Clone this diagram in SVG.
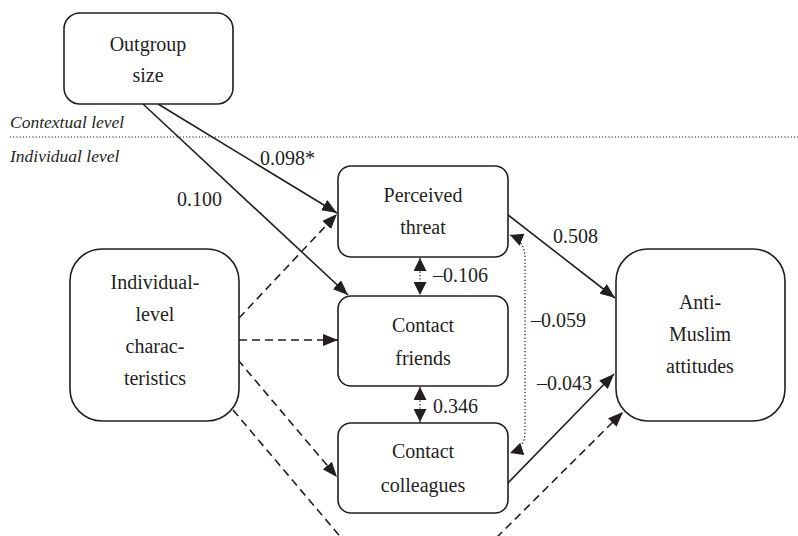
<svg xmlns="http://www.w3.org/2000/svg" width="798" height="536" viewBox="0 0 798 536">
<style>
.box{fill:#fff;stroke:#231f20;stroke-width:1.6}
.t{font-family:'Liberation Serif','DejaVu Serif',serif;font-size:20px;fill:#231f20;text-anchor:middle}
.lab{font-family:'Liberation Serif','DejaVu Serif',serif;font-size:20px;fill:#231f20}
.lvl{font-family:'Liberation Serif','DejaVu Serif',serif;font-size:17.5px;font-style:italic;fill:#231f20}
.c{fill:none;stroke:#231f20;stroke-width:1.6}
.d{stroke-dasharray:8 5}
.o{stroke-dasharray:1.2 2.2;stroke-width:1.3}
</style>
<defs>
<marker id="ah" markerUnits="userSpaceOnUse" viewBox="0 0 15 12" refX="15" refY="6" markerWidth="15" markerHeight="12" orient="auto-start-reverse">
<path d="M0,0 L15,6 L0,12 z" fill="#231f20"/>
</marker>
<marker id="ahs" markerUnits="userSpaceOnUse" viewBox="0 0 13 13" refX="13" refY="6.5" markerWidth="13" markerHeight="13" orient="auto-start-reverse">
<path d="M0,0 L13,6.5 L0,13 z" fill="#231f20"/>
</marker>
</defs>
<text class="lvl" x="10" y="128">Contextual level</text>
<line x1="10" y1="137" x2="798" y2="137" stroke="#231f20" stroke-width="1.2" stroke-dasharray="1.2 2"/>
<text class="lvl" x="10" y="162">Individual level</text>
<g id="connectors">
<line class="c" x1="158" y1="104" x2="337" y2="213" marker-end="url(#ah)"/>
<line class="c" x1="143" y1="104" x2="348" y2="295" marker-end="url(#ah)"/>
<line class="c d" x1="239" y1="318" x2="337" y2="214" marker-end="url(#ah)"/>
<line class="c d" x1="239" y1="340" x2="338" y2="340" marker-end="url(#ah)"/>
<line class="c d" x1="238" y1="360" x2="337" y2="477" marker-end="url(#ah)"/>
<line class="c d" x1="233" y1="410" x2="360" y2="560"/>
<line class="c" x1="508" y1="215" x2="615" y2="298" marker-end="url(#ah)"/>
<line class="c" x1="508" y1="483" x2="614" y2="374" marker-end="url(#ah)"/>
<line class="c d" x1="478" y1="556" x2="623" y2="412" marker-end="url(#ah)"/>
<line class="c o" x1="420" y1="258" x2="420" y2="295" marker-start="url(#ahs)" marker-end="url(#ahs)"/>
<line class="c o" x1="420" y1="387" x2="420" y2="422" marker-start="url(#ahs)" marker-end="url(#ahs)"/>
<path class="c o" d="M510,235 Q525,241 525,258 L525,432 Q525,448 510,453" marker-start="url(#ahs)" marker-end="url(#ahs)"/>
<text class="lab" x="260" y="165">0.098*</text>
<text class="lab" x="177" y="206">0.100</text>
<text class="lab" x="553" y="243">0.508</text>
<text class="lab" x="433" y="282">–0.106</text>
<text class="lab" x="531" y="327">–0.059</text>
<text class="lab" x="433" y="413">0.346</text>
<text class="lab" x="537" y="390">–0.043</text>
</g>
<g id="outgroup">
<rect class="box" x="64" y="13" width="169" height="91" rx="16"/>
<text class="t" x="148" y="51">Outgroup</text>
<text class="t" x="148" y="82">size</text>
</g>
<g id="threat">
<rect class="box" x="338" y="166" width="170" height="91" rx="13"/>
<text class="t" x="423" y="202">Perceived</text>
<text class="t" x="423" y="234">threat</text>
</g>
<g id="friends">
<rect class="box" x="338" y="296" width="170" height="90" rx="13"/>
<text class="t" x="423" y="332">Contact</text>
<text class="t" x="423" y="365">friends</text>
</g>
<g id="colleagues">
<rect class="box" x="338" y="423" width="170" height="90" rx="13"/>
<text class="t" x="423" y="458">Contact</text>
<text class="t" x="423" y="492">colleagues</text>
</g>
<g id="individual">
<rect class="box" x="70" y="249" width="169" height="172" rx="32"/>
<text class="t" x="155" y="289">Individual-</text>
<text class="t" x="155" y="321">level</text>
<text class="t" x="155" y="353">charac-</text>
<text class="t" x="155" y="385">teristics</text>
</g>
<g id="antimuslim">
<rect class="box" x="616" y="249" width="169" height="172" rx="32"/>
<text class="t" x="700" y="309">Anti-</text>
<text class="t" x="700" y="341">Muslim</text>
<text class="t" x="700" y="373">attitudes</text>
</g>
</svg>
